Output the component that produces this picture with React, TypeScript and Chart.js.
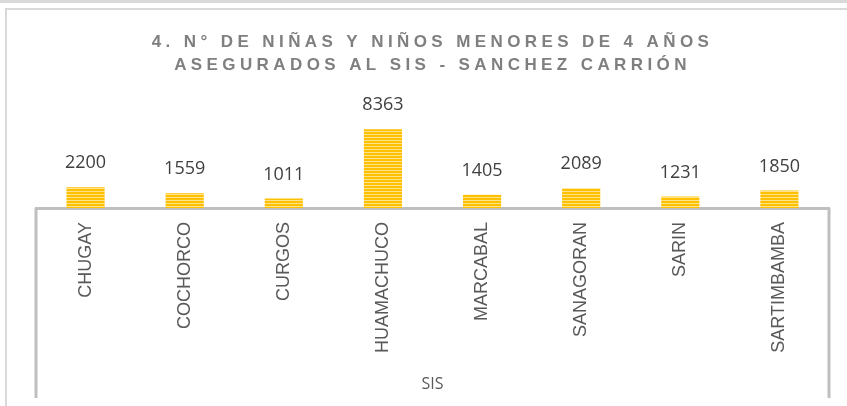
import React, { useEffect, useRef } from "react";
import { Chart, registerables } from "chart.js";

Chart.register(...registerables);

const categories = ["CHUGAY", "COCHORCO", "CURGOS", "HUAMACHUCO", "MARCABAL", "SANAGORAN", "SARIN", "SARTIMBAMBA"];
const values = [2200, 1559, 1011, 8363, 1405, 2089, 1231, 1850];
const titleLines = ["4. N° DE NIÑAS Y NIÑOS MENORES DE 4 AÑOS", "ASEGURADOS AL SIS - SANCHEZ CARRIÓN"];
const axisTitle = "SIS";
const yMax = 11480;

function makePattern(): CanvasPattern | string {
  const c = document.createElement("canvas");
  c.width = 4;
  c.height = 3;
  const g = c.getContext("2d");
  if (!g) return "#FFC000";
  g.fillStyle = "#FFC000";
  g.fillRect(0, 0, 4, 2);
  g.fillStyle = "#FFE38C";
  g.fillRect(0, 2, 4, 1);
  return g.createPattern(c, "repeat") || "#FFC000";
}

const framePlugin = {
  id: "frame",
  beforeDraw(chart: any) {
    const ctx = chart.ctx;
    ctx.save();
    ctx.fillStyle = "#ffffff";
    ctx.fillRect(0, 0, chart.width, chart.height);
    ctx.fillStyle = "#D9D9D9";
    ctx.fillRect(0, 0, chart.width, 3);
    ctx.fillRect(5, 8, chart.width - 5, 2);
    ctx.fillRect(5, 8, 2, chart.height - 8);
    ctx.restore();
  },
};

const titlePlugin = {
  id: "spacedTitle",
  afterDraw(chart: any) {
    const ctx = chart.ctx;
    ctx.save();
    ctx.fillStyle = "#7F7F7F";
    ctx.font = "bold 17px 'Liberation Sans', Arial, sans-serif";
    (ctx as any).letterSpacing = "4.4px";
    ctx.textAlign = "center";
    ctx.textBaseline = "middle";
    const ys = [42, 65];
    titleLines.forEach((t, i) => ctx.fillText(t, 432.5, ys[i]));
    ctx.restore();
  },
};

const labelsPlugin = {
  id: "barValues",
  afterDatasetsDraw(chart: any) {
    const ctx = chart.ctx;
    const meta = chart.getDatasetMeta(0);
    ctx.save();
    ctx.fillStyle = "#404040";
    ctx.font = "18px 'Open Sans', sans-serif";
    ctx.textAlign = "center";
    ctx.textBaseline = "middle";
    meta.data.forEach((bar: any, i: number) => {
      ctx.fillText(String(values[i]), bar.x, bar.y - 24);
    });
    ctx.restore();
  },
};

const sideLinesPlugin = {
  id: "sideLines",
  afterDraw(chart: any) {
    const { ctx, chartArea } = chart;
    ctx.save();
    ctx.strokeStyle = "#BFBFBF";
    ctx.lineWidth = 3;
    ctx.beginPath();
    ctx.moveTo(chartArea.left, chartArea.bottom);
    ctx.lineTo(chartArea.left, 398);
    ctx.moveTo(chartArea.right, chartArea.bottom);
    ctx.lineTo(chartArea.right, 398);
    ctx.stroke();
    ctx.restore();
  },
};

export default function App() {
  const ref = useRef<HTMLCanvasElement | null>(null);
  useEffect(() => {
    if (!ref.current) return;
    const chart = new Chart(ref.current, {
      type: "bar",
      data: {
        labels: categories,
        datasets: [
          {
            data: values,
            backgroundColor: makePattern() as any,
            borderWidth: 0,
            barPercentage: 0.385,
            categoryPercentage: 1,
          },
        ],
      },
      options: {
        animation: false,
        responsive: false,
        devicePixelRatio: 1,
        layout: { padding: { top: 100, left: 36, right: 18, bottom: 8 } },
        plugins: { legend: { display: false }, tooltip: { enabled: false }, title: { display: false } },
        scales: {
          x: {
            afterFit: (scale: any) => {
              scale.height = 190;
            },
            grid: { display: false, drawTicks: false },
            border: { display: true, color: "#BFBFBF", width: 3 },
            ticks: {
              minRotation: 90,
              maxRotation: 90,
              autoSkip: false,
              padding: 14,
              color: "#595959",
              font: { family: "'Liberation Sans', Arial, sans-serif", size: 18 },
            },
            title: {
              display: true,
              text: axisTitle,
              color: "#595959",
              font: { family: "'Open Sans', sans-serif", size: 16 },
              padding: { top: 20, bottom: 4 },
            },
          },
          y: { display: false, min: 0, max: yMax },
        },
      },
      plugins: [framePlugin, labelsPlugin, sideLinesPlugin, titlePlugin],
    });
    return () => chart.destroy();
  }, []);
  return (
    <div style={{ position: "absolute", left: 0, top: 0, width: 847, height: 406 }}>
      <canvas ref={ref} width={847} height={406} />
    </div>
  );
}
